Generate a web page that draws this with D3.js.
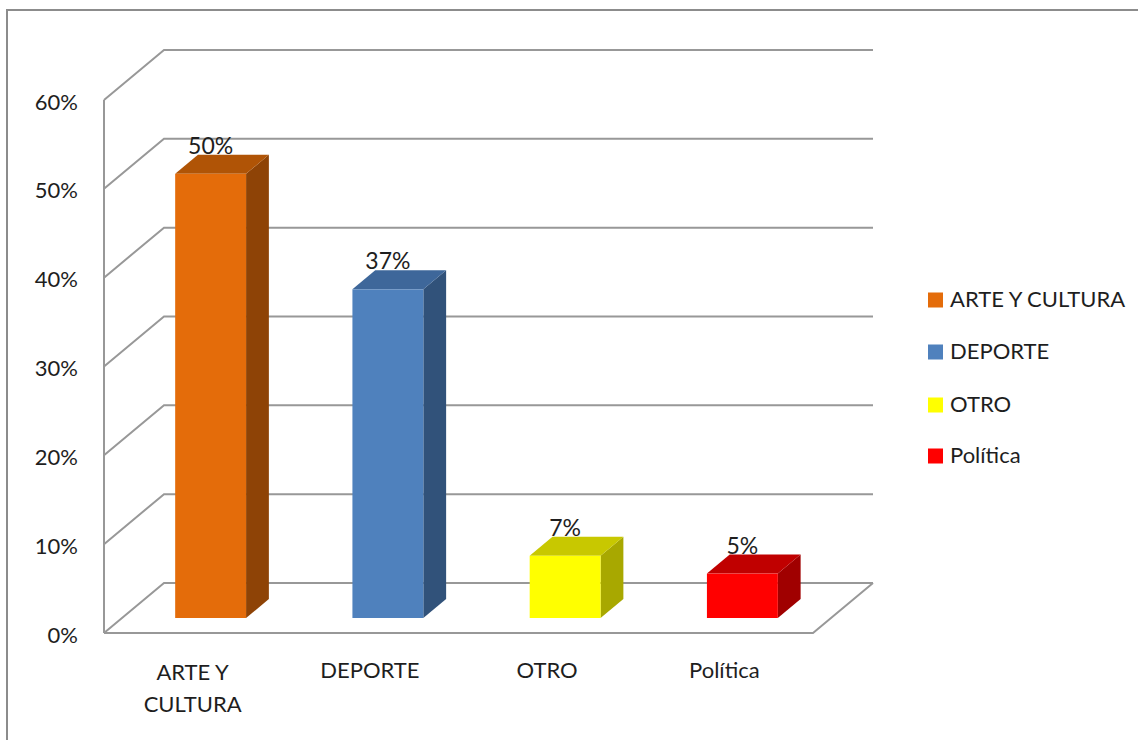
<!DOCTYPE html>
<html>
<head>
<meta charset="utf-8">
<script src="https://cdn.jsdelivr.net/npm/d3@7"></script>
<style>
  html, body { margin: 0; padding: 0; background: #fff; }
  svg { display: block; }
  text { font-family: Lato, "Open Sans", sans-serif; fill: #1e1e1e; }
</style>
</head>
<body>
<svg id="chart" width="1138" height="740"></svg>
<script>
const categories = ["ARTE Y CULTURA", "DEPORTE", "OTRO", "Política"];
const categoryLines = [["ARTE Y", "CULTURA"], ["DEPORTE"], ["OTRO"], ["Política"]];
const values = [0.50, 0.37, 0.07, 0.05];
const valueLabels = ["50%", "37%", "7%", "5%"];
const tickValues = [0, 0.1, 0.2, 0.3, 0.4, 0.5, 0.6];
const tickLabels = ["0%", "10%", "20%", "30%", "40%", "50%", "60%"];
const frontColors = ["#E46C0A", "#4F81BD", "#FFFF00", "#FF0000"];
const topColors   = ["#B05406", "#3E679A", "#C8C800", "#C00000"];
const sideColors  = ["#8E4306", "#31527A", "#A8A800", "#A00000"];

const svg = d3.select("#chart");

// outer frame
svg.append("path")
  .attr("d", "M7,745 L7,10 L1145,10")
  .attr("fill", "none").attr("stroke", "#8c8c8c").attr("stroke-width", 2);

const x0 = 104, x1 = 813;
const DX = 60, DY = -50;           // depth offset of the back wall
const d0 = 0.30, d1 = 0.68;        // bar depth range (fraction of floor)

const y = d3.scaleLinear().domain([0, 0.6]).range([633, 100]);
const x = d3.scaleBand().domain(categories).range([x0, x1])
  .paddingInner(0.6).paddingOuter(0.3);

const grid = svg.append("g").attr("fill", "none").attr("stroke", "#989898").attr("stroke-width", 2);

// left wall vertical
grid.append("line").attr("x1", x0).attr("x2", x0).attr("y1", y(0.6)).attr("y2", y(0));
// gridlines: diagonal on side wall + horizontal on back wall
tickValues.forEach(v => {
  grid.append("path").attr("d",
    `M${x0},${y(v)} L${x0 + DX},${y(v) + DY} L${x1 + DX},${y(v) + DY}`);
});
// floor front edge and right edge
grid.append("path").attr("d",
  `M${x0},${y(0)} L${x1},${y(0)} L${x1 + DX},${y(0) + DY}`);

// tick labels
svg.append("g").selectAll("text").data(tickValues).join("text")
  .attr("x", 78).attr("y", d => y(d) + 4)
  .attr("text-anchor", "end").attr("dominant-baseline", "middle")
  .attr("font-size", 22)
  .text((d, i) => tickLabels[i]);

// bars
const bars = svg.append("g");
categories.forEach((c, i) => {
  const fx = x(c) + d0 * DX, fy0 = y(0) + d0 * DY;
  const w = x.bandwidth();
  const ddx = (d1 - d0) * DX, ddy = (d1 - d0) * DY;
  const h = y(0) - y(values[i]);
  const top = fy0 - h;
  // side
  bars.append("path")
    .attr("d", `M${fx + w},${fy0} L${fx + w + ddx},${fy0 + ddy} L${fx + w + ddx},${top + ddy} L${fx + w},${top} Z`)
    .attr("fill", sideColors[i]);
  // top
  bars.append("path")
    .attr("d", `M${fx},${top} L${fx + ddx},${top + ddy} L${fx + w + ddx},${top + ddy} L${fx + w},${top} Z`)
    .attr("fill", topColors[i]);
  // front
  bars.append("rect")
    .attr("x", fx).attr("y", top).attr("width", w).attr("height", h)
    .attr("fill", frontColors[i]);
  // value label
  bars.append("text")
    .attr("x", fx + w / 2).attr("y", top - 20)
    .attr("text-anchor", "middle").attr("font-size", 23)
    .text(valueLabels[i]);
});

// category labels
const cat = svg.append("g");
categories.forEach((c, i) => {
  const lines = categoryLines[i];
  const cx = x(c) + x.bandwidth() / 2;
  lines.forEach((ln, j) => {
    cat.append("text")
      .attr("x", cx)
      .attr("y", (lines.length > 1 ? 674 : 672) + j * 32)
      .attr("text-anchor", "middle").attr("dominant-baseline", "middle")
      .attr("font-size", 22)
      .text(ln);
  });
});

// legend
const legY = [300, 352, 405, 456];
const leg = svg.append("g");
categories.forEach((c, i) => {
  leg.append("rect").attr("x", 928).attr("y", legY[i] - 7.5).attr("width", 15).attr("height", 15)
    .attr("fill", frontColors[i]);
  leg.append("text").attr("x", 950).attr("y", legY[i] + 1)
    .attr("dominant-baseline", "middle").attr("font-size", 22)
    .text(c);
});
</script>
</body>
</html>
